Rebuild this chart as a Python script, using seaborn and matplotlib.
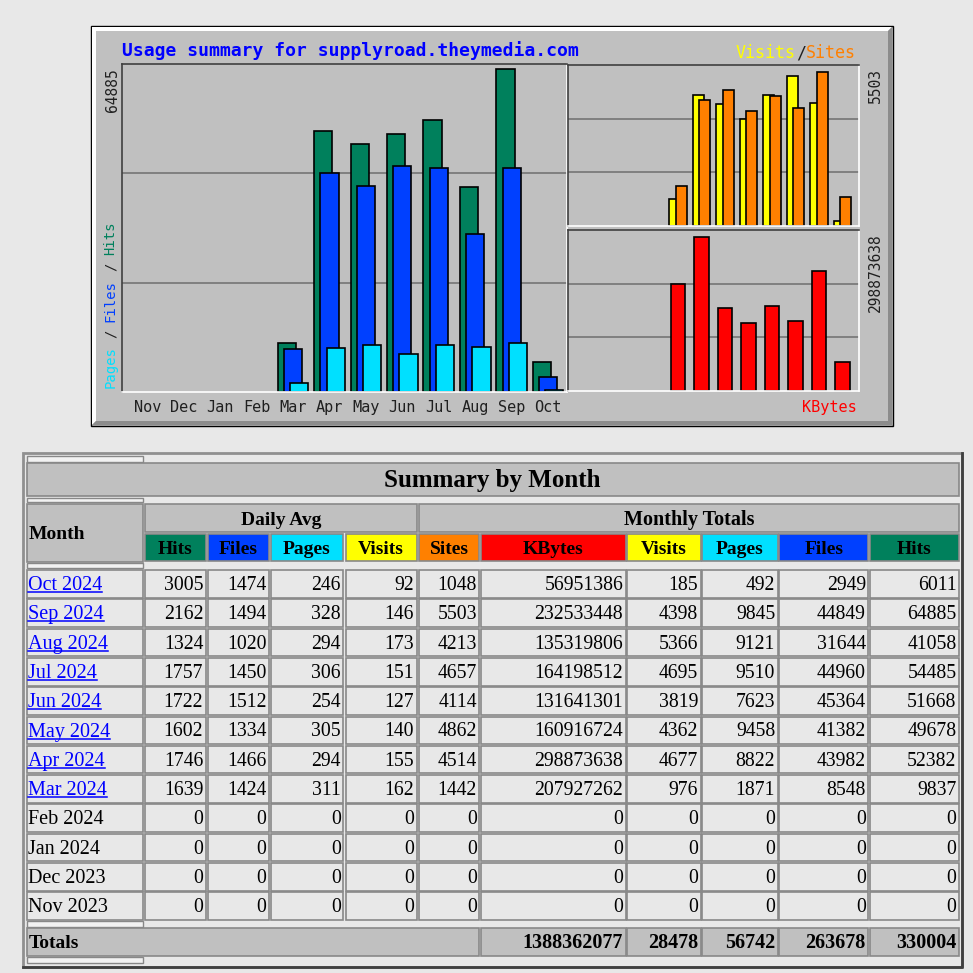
import pandas as pd
import matplotlib.pyplot as plt
import seaborn as sns
from matplotlib.patches import Rectangle, Polygon

# ---- data, oldest month first ----
months = ['Nov', 'Dec', 'Jan', 'Feb', 'Mar', 'Apr', 'May', 'Jun', 'Jul', 'Aug', 'Sep', 'Oct']
row_names = ['Nov 2023', 'Dec 2023', 'Jan 2024', 'Feb 2024', 'Mar 2024', 'Apr 2024',
             'May 2024', 'Jun 2024', 'Jul 2024', 'Aug 2024', 'Sep 2024', 'Oct 2024']
linked = [False, False, False, False, True, True, True, True, True, True, True, True]

avg_hits = [0, 0, 0, 0, 1639, 1746, 1602, 1722, 1757, 1324, 2162, 3005]
avg_files = [0, 0, 0, 0, 1424, 1466, 1334, 1512, 1450, 1020, 1494, 1474]
avg_pages = [0, 0, 0, 0, 311, 294, 305, 254, 306, 294, 328, 246]
avg_visits = [0, 0, 0, 0, 162, 155, 140, 127, 151, 173, 146, 92]
sites = [0, 0, 0, 0, 1442, 4514, 4862, 4114, 4657, 4213, 5503, 1048]
kbytes = [0, 0, 0, 0, 207927262, 298873638, 160916724, 131641301, 164198512,
          135319806, 232533448, 56951386]
visits = [0, 0, 0, 0, 976, 4677, 4362, 3819, 4695, 5366, 4398, 185]
pages = [0, 0, 0, 0, 1871, 8822, 9458, 7623, 9510, 9121, 9845, 492]
files = [0, 0, 0, 0, 8548, 43982, 41382, 45364, 44960, 31644, 44849, 2949]
hits = [0, 0, 0, 0, 9837, 52382, 49678, 51668, 54485, 41058, 64885, 6011]
totals = [1388362077, 28478, 56742, 263678, 330004]  # KBytes, Visits, Pages, Files, Hits

# ---- colours / fonts ----
C_HITS, C_FILES, C_PAGES = '#00805c', '#0040ff', '#00e0ff'
C_VISITS, C_SITES, C_KB = '#ffff00', '#ff8000', '#ff0000'
GRAY, PAGE, CELL = '#c0c0c0', '#e8e8e8', '#e8e8e8'
MONO, SERIF = 'DejaVu Sans Mono', 'Liberation Serif'

W = H = 973
fig = plt.figure(figsize=(W / 100, H / 100), dpi=100, facecolor=PAGE)

# background axes in pixel units (y down)
bg = fig.add_axes([0, 0, 1, 1], zorder=-1)
bg.set_xlim(0, W)
bg.set_ylim(H, 0)
bg.axis('off')


def rect(x0, y0, x1, y1, fc, ec='#888888', lw=1.2, z=1):
    bg.add_patch(Rectangle((x0, y0), x1 - x0, y1 - y0, facecolor=fc,
                           edgecolor=ec, linewidth=lw, zorder=z))


def fbox(x0, y0, x1, y1):
    return [x0 / W, 1 - y1 / H, (x1 - x0) / W, (y1 - y0) / H]


# ---- chart image frame ----
rect(91, 26, 893, 426, GRAY, ec='black', lw=1)
b = 4
bg.add_patch(Polygon([(92, 27), (892, 27), (892 - b, 27 + b), (92 + b, 27 + b),
                      (92 + b, 425 - b), (92, 425)], closed=True, fc='white', ec='none', zorder=1.5))
bg.add_patch(Polygon([(92, 425), (892, 425), (892, 27), (892 - b, 27 + b),
                      (892 - b, 425 - b), (92 + b, 425 - b)], closed=True, fc='#8c8c8c', ec='none', zorder=1.5))

df = pd.DataFrame({'pos': range(12), 'hits': hits, 'files': files, 'pages': pages,
                   'visits': visits, 'sites': sites, 'kbytes': kbytes})
shown = df[df['hits'] > 0]


def bars(ax, col, shift, width, color):
    sns.barplot(x=shown['pos'] + shift, y=shown[col], orient='x', native_scale=True,
                width=width, color=color, saturation=1, edgecolor='black',
                linewidth=1.2, errorbar=None, ax=ax)


def panel(ax, ymax, xlo, xhi):
    ax.set_facecolor(GRAY)
    ax.set_xlim(xlo, xhi)
    ax.set_ylim(0, ymax)
    ax.set_xlabel('')
    ax.set_ylabel('')
    ax.set_yticks([])
    for s in ('top', 'left'):
        ax.spines[s].set_color('#404040')
    for s in ('bottom', 'right'):
        ax.spines[s].set_color('white')
    for sp in ax.spines.values():
        sp.set_linewidth(1.2)
    for f in (1 / 3, 2 / 3):
        ax.axhline(ymax * f, color='#808080', lw=1.4, zorder=0.5)


ax_main = fig.add_axes(fbox(122, 64, 567, 392))
bars(ax_main, 'hits', -0.17, 0.5, C_HITS)
bars(ax_main, 'files', 0.0, 0.5, C_FILES)
bars(ax_main, 'pages', 0.17, 0.5, C_PAGES)
panel(ax_main, 65800, -0.691, 11.517)
ax_main.set_xticks(range(12))
ax_main.set_xticklabels(months, fontfamily=MONO, fontsize=11, color='#202020')
ax_main.tick_params(axis='x', length=0, pad=6)

ax_vs = fig.add_axes(fbox(568, 65, 859, 226))
bars(ax_vs, 'visits', -0.136, 0.47, C_VISITS)
bars(ax_vs, 'sites', 0.136, 0.47, C_SITES)
panel(ax_vs, 5770, -0.681, 11.70)
ax_vs.set_xticks([])

ax_kb = fig.add_axes(fbox(568, 230, 859, 391))
bars(ax_kb, 'kbytes', 0.0, 0.625, C_KB)
panel(ax_kb, 3.125e8, -0.681, 11.70)
ax_kb.set_xticks([])

# ---- chart texts ----
bg.text(122, 55.7, 'Usage summary for supplyroad.theymedia.com', ha='left', va='baseline',
        fontfamily=MONO, fontsize=13, fontweight='bold', color='#0000ff', zorder=3)


def multicolor(x, y, segs, size, vertical):
    # monospace: every character advances by the same amount
    adv = 0.60205 * size * 100 / 72
    n = 0
    for txt, col in segs:
        if txt.strip():
            lead = len(txt) - len(txt.lstrip())
            k = n + lead
            px, py = (x, y - k * adv) if vertical else (x + k * adv, y)
            bg.text(px, py, txt.strip(), rotation=90 if vertical else 0, rotation_mode='anchor',
                    ha='left', va='baseline', fontfamily=MONO, fontsize=size, color=col, zorder=3)
        n += len(txt)


multicolor(736, 58, [('Visits', C_VISITS), ('/', '#202020'), ('Sites', C_SITES)], 12, False)
multicolor(114.5, 388.5, [('Pages', C_PAGES), (' / ', '#202020'), ('Files', C_FILES),
                          (' / ', '#202020'), ('Hits', C_HITS)], 10, True)

for x, y, s in [(112, 68, str(max(hits))), (875, 68, str(max(sites))), (875, 233, str(max(kbytes)))]:
    bg.text(x, y, s, rotation=90, ha='center', va='top', fontfamily=MONO, fontsize=10.5,
            color='#202020', zorder=3)
bg.text(857, 412, 'KBytes', ha='right', va='baseline', fontfamily=MONO, fontsize=11,
        color=C_KB, zorder=3)

# ---- summary table ----
rect(22.5, 452.5, 962, 966.5, PAGE, ec='#909090', lw=2, z=0.5)
bg.plot([962, 962, 22.5], [452.5, 966.5, 966.5], color='#404040', lw=2, zorder=0.6)

for y0, y1 in [(455.5, 461.5), (497.7, 502.3), (563.3, 568.3), (920.7, 926.7), (957.3, 962.7)]:
    rect(26.7, y0, 143.3, y1, '#f2f2f2', lw=1.0)

rect(26.7, 463.3, 959, 495.7, GRAY)
bg.text(492, 487.3, 'Summary by Month', ha='center', va='baseline', fontfamily=SERIF,
        fontsize=18, fontweight='bold', zorder=3)

rect(26.7, 504.3, 143.3, 561.7, GRAY)
bg.text(28.5, 539.3, 'Month', ha='left', va='baseline', fontfamily=SERIF, fontsize=14,
        fontweight='bold', zorder=3)
rect(145.3, 504.3, 416.7, 532.3, GRAY)
bg.text(281, 525, 'Daily Avg', ha='center', va='baseline', fontfamily=SERIF, fontsize=14,
        fontweight='bold', zorder=3)
rect(418.7, 504.3, 959, 532.3, GRAY)
bg.text(689, 525, 'Monthly Totals', ha='center', va='baseline', fontfamily=SERIF, fontsize=14.5,
        fontweight='bold', zorder=3)

cols = [(145.3, 205.7), (207.7, 269), (270.7, 343.3), (345.7, 416.7), (418.7, 479.3),
        (481.3, 625.7), (627, 700.7), (702.3, 777.7), (779, 868.3), (870, 959)]
heads = ['Hits', 'Files', 'Pages', 'Visits', 'Sites', 'KBytes', 'Visits', 'Pages', 'Files', 'Hits']
head_cols = [C_HITS, C_FILES, C_PAGES, C_VISITS, C_SITES, C_KB, C_VISITS, C_PAGES, C_FILES, C_HITS]
for (x0, x1), h, c in zip(cols, heads, head_cols):
    rect(x0, 534, x1, 561, c)
    bg.text((x0 + x1) / 2, 554, h, ha='center', va='baseline', fontfamily=SERIF, fontsize=14,
            fontweight='bold', zorder=3)

links = []
for r, m in enumerate(range(11, -1, -1)):
    y0 = 570 + 29.3 * r
    rect(26.7, y0, 143.3, y0 + 27.6, CELL)
    t = bg.text(28, y0 + 20, row_names[m], ha='left', va='baseline', fontfamily=SERIF,
                fontsize=14.5, color='#0000ff' if linked[m] else 'black', zorder=3)
    if linked[m]:
        links.append((t, y0 + 22))
    vals = [avg_hits[m], avg_files[m], avg_pages[m], avg_visits[m], sites[m],
            kbytes[m], visits[m], pages[m], files[m], hits[m]]
    for (x0, x1), v in zip(cols, vals):
        rect(x0, y0, x1, y0 + 27.6, CELL)
        bg.text(x1 - 2.5, y0 + 20, str(v), ha='right', va='baseline', fontfamily=SERIF,
                fontsize=14.2, zorder=3)

rect(26.7, 928.3, 479.3, 956, GRAY)
bg.text(28.5, 948.5, 'Totals', ha='left', va='baseline', fontfamily=SERIF, fontsize=14,
        fontweight='bold', zorder=3)
for (x0, x1), v in zip(cols[5:], totals):
    rect(x0, 928.3, x1, 956, GRAY)
    bg.text(x1 - 2.5, 948.5, str(v), ha='right', va='baseline', fontfamily=SERIF, fontsize=14.5,
            fontweight='bold', zorder=3)

# underline the month links
fig.canvas.draw()
ren = fig.canvas.get_renderer()
inv = bg.transData.inverted()
for t, yl in links:
    ext = t.get_window_extent(ren)
    xa = inv.transform((ext.x0, ext.y0))[0]
    xb = inv.transform((ext.x1, ext.y0))[0]
    bg.plot([xa, xb], [yl, yl], color='#0000ff', lw=1.1, zorder=3)

fig.savefig('out.png', dpi=100, facecolor=PAGE)
